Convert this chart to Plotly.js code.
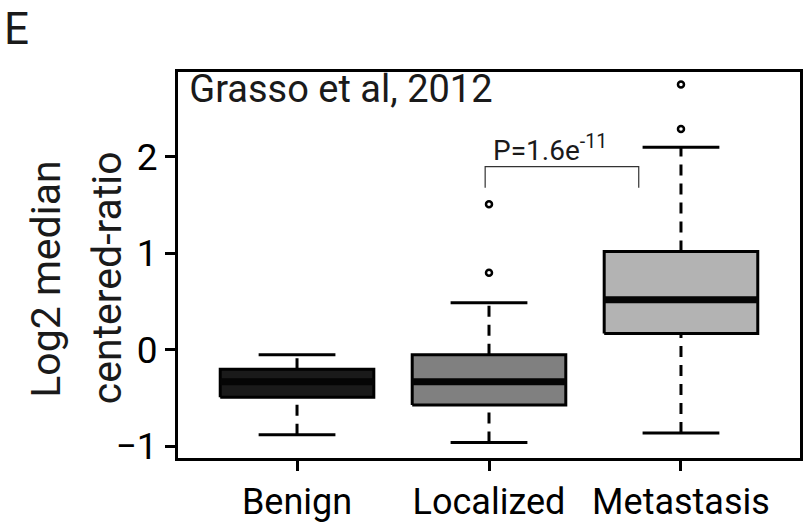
<!DOCTYPE html>
<html><head><meta charset="utf-8">
<script src="https://cdn.plot.ly/plotly-3.0.1.min.js"></script>
<style>html,body{margin:0;padding:0;background:#fff}</style>
</head><body>
<div id="chart" style="width:809px;height:529px"></div>
<script>
// ---- data ----
const categories = ['Benign', 'Localized', 'Metastasis'];
const lowerWhisker = [-0.88, -0.96, -0.86];
const q1 = [-0.49, -0.57, 0.17];
const median = [-0.33, -0.33, 0.52];
const q3 = [-0.20, -0.05, 1.02];
const upperWhisker = [-0.05, 0.49, 2.10];
const outlierGroup = [2, 2, 3, 3];
const outlierValues = [0.80, 1.51, 2.29, 2.75];
const fillColors = ['#1a1a1a', '#808080', '#b3b3b3'];
const yTickVals = [-1, 0, 1, 2];
const yTickText = ['\u22121', '0', '1', '2'];
const yTitleLines = ['Log2 median', 'centered-ratio'];
const pText = 'P=1.6e<sup>-11</sup>';
const bracketX = [1.98, 2.78];
const bracketY = [1.68, 1.90];

const FONT = 'Roboto, "Open Sans", sans-serif';
const BOXW = 0.4, CAPW = 0.2;
const traces = [];

// whiskers (dashed)
const wx = [], wy = [];
categories.forEach((c, i) => {
  const x = i + 1;
  wx.push(x, x, null, x, x, null);
  wy.push(q3[i], upperWhisker[i], null, lowerWhisker[i], q1[i], null);
});
traces.push({x: wx, y: wy, mode: 'lines', line: {color: '#000', width: 3, dash: '11px,8px'}, hoverinfo: 'skip'});

// caps
const cx = [], cy = [];
categories.forEach((c, i) => {
  const x = i + 1;
  cx.push(x - CAPW, x + CAPW, null, x - CAPW, x + CAPW, null);
  cy.push(upperWhisker[i], upperWhisker[i], null, lowerWhisker[i], lowerWhisker[i], null);
});
traces.push({x: cx, y: cy, mode: 'lines', line: {color: '#000', width: 3}, hoverinfo: 'skip'});

// boxes
categories.forEach((c, i) => {
  const x = i + 1;
  traces.push({
    x: [x - BOXW, x + BOXW, x + BOXW, x - BOXW, x - BOXW],
    y: [q1[i], q1[i], q3[i], q3[i], q1[i]],
    mode: 'lines', fill: 'toself', fillcolor: fillColors[i],
    line: {color: '#000', width: 3}, name: c, hoverinfo: 'skip'
  });
});

// medians
const mx = [], my = [];
categories.forEach((c, i) => {
  const x = i + 1;
  mx.push(x - BOXW, x + BOXW, null);
  my.push(median[i], median[i], null);
});
traces.push({x: mx, y: my, mode: 'lines', line: {color: '#050505', width: 7}, hoverinfo: 'skip'});

// outliers
traces.push({x: outlierGroup, y: outlierValues, mode: 'markers',
  marker: {symbol: 'circle-open', size: 6, color: '#000', line: {width: 2.5, color: '#000'}}, hoverinfo: 'skip'});

// significance bracket
traces.push({x: [bracketX[0], bracketX[0], bracketX[1], bracketX[1]],
  y: [bracketY[0], bracketY[1], bracketY[1], bracketY[0]],
  mode: 'lines', line: {color: '#333', width: 1.2}, hoverinfo: 'skip'});

const layout = {
  width: 809, height: 529,
  margin: {l: 178, r: 9, t: 72, b: 71},
  paper_bgcolor: '#fff', plot_bgcolor: '#fff',
  showlegend: false, hovermode: false,
  font: {family: FONT, color: '#000'},
  title: {text: 'Grasso et al, 2012', x: 0.234, xanchor: 'left', xref: 'container',
          y: 0.858, yanchor: 'top', yref: 'container', font: {size: 38, family: FONT, color: '#1a1a1a'}},
  xaxis: {
    range: [0.38, 3.62], tickvals: [1, 2, 3], ticktext: categories,
    ticks: 'outside', ticklen: 10, tickwidth: 3, tickcolor: '#000',
    showline: true, linewidth: 3, linecolor: '#000', mirror: true,
    showgrid: false, zeroline: false,
    tickfont: {size: 36, family: FONT, color: '#000'}
  },
  yaxis: {
    range: [-1.12, 2.88], tickvals: yTickVals, ticktext: yTickText,
    ticks: 'outside', ticklen: 10, tickwidth: 3, tickcolor: '#000',
    showline: true, linewidth: 3, linecolor: '#000', mirror: true,
    showgrid: false, zeroline: false,
    tickfont: {size: 37, family: FONT, color: '#000'}
  },
  annotations: [
    {text: 'E', xref: 'paper', yref: 'paper', x: -0.283, y: 1.183, xanchor: 'left', yanchor: 'top',
     showarrow: false, font: {size: 44, family: FONT, color: '#1a1a1a'}},
    {text: yTitleLines[0], xref: 'paper', yref: 'paper', x: -0.212, y: 0.462, xanchor: 'center', yanchor: 'middle',
     textangle: -90, showarrow: false, font: {size: 41, family: FONT, color: '#1a1a1a'}},
    {text: yTitleLines[1], xref: 'paper', yref: 'paper', x: -0.115, y: 0.467, xanchor: 'center', yanchor: 'middle',
     textangle: -90, showarrow: false, font: {size: 41, family: FONT, color: '#1a1a1a'}},
    {text: pText, xref: 'x', yref: 'y', x: 2.32, y: 2.09, xanchor: 'center', yanchor: 'middle',
     showarrow: false, font: {size: 28, family: FONT, color: '#1a1a1a'}}
  ]
};

Plotly.newPlot('chart', traces, layout, {displayModeBar: false, staticPlot: true});
</script>
</body></html>
